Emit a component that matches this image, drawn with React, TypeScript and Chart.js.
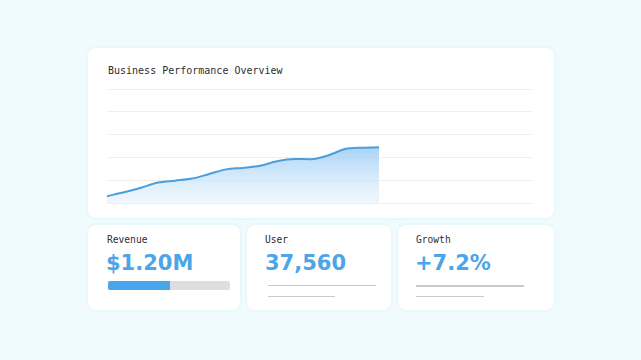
import React, { useEffect, useRef } from "react";
import { Chart, registerables } from "chart.js";

Chart.register(...registerables);

const periods = Array.from({ length: 26 }, (_, i) => `P${i + 1}`);
const performance: (number | null)[] = [
  6.0, 9.4, 13.4, 17.9, 19.6, 21.4, 25.4, 29.5, 30.8, 32.6, 36.6, 38.6, 38.4, 41.7, 47.3, 48.5, 48.8,
  null, null, null, null, null, null, null, null, null,
];
const yTicks = [0, 20, 40, 60, 80, 100];

const title = "Business Performance Overview";
const kpiLabels = ["Revenue", "User", "Growth"];
const kpiValues = ["$1.20M", "37,560", "+7.2%"];
const revenueProgress = 0.51;

const card: React.CSSProperties = {
  position: "absolute",
  background: "#ffffff",
  borderRadius: 8,
  boxShadow: "0 0 3px rgba(180,220,235,0.35)",
};

export default function App() {
  const ref = useRef<HTMLCanvasElement | null>(null);

  useEffect(() => {
    if (!ref.current) return;
    const chart = new Chart(ref.current, {
      type: "line",
      data: {
        labels: periods,
        datasets: [
          {
            data: performance,
            borderColor: "#4a9edb",
            borderWidth: 2,
            pointRadius: 0,
            tension: 0.4,
            cubicInterpolationMode: "monotone",
            fill: "start",
            spanGaps: false,
            backgroundColor: (ctx: any) => {
              const { chart } = ctx;
              const area = chart.chartArea;
              if (!area) return "rgba(160,210,245,0.6)";
              const g = chart.ctx.createLinearGradient(0, area.top + 55, 0, area.bottom);
              g.addColorStop(0, "rgba(158,206,245,0.95)");
              g.addColorStop(1, "rgba(225,240,252,0.5)");
              return g;
            },
          },
        ],
      },
      options: {
        animation: false,
        responsive: false,
        maintainAspectRatio: false,
        layout: { padding: { top: 0, bottom: 3, left: 0, right: 0 } },
        plugins: { legend: { display: false }, tooltip: { enabled: false }, title: { display: false } },
        scales: {
          x: { display: false, offset: false },
          y: {
            min: 0,
            max: 100,
            afterBuildTicks: (axis: any) => {
              axis.ticks = yTicks.map((v) => ({ value: v }));
            },
            ticks: { display: false },
            border: { display: false },
            grid: { color: "#efefef", lineWidth: 1, drawTicks: false },
          },
        },
      },
    });
    return () => chart.destroy();
  }, []);

  const labelStyle: React.CSSProperties = {
    position: "absolute",
    fontFamily: "'DejaVu Sans Mono', monospace",
    fontSize: 9.6,
    color: "#2e2e2e",
    whiteSpace: "nowrap",
    transform: "scaleY(1.12)",
    transformOrigin: "left top",
  };
  const valueStyle: React.CSSProperties = {
    position: "absolute",
    fontFamily: "'DejaVu Sans', sans-serif",
    fontWeight: 700,
    fontSize: 21,
    color: "#4ba5e8",
    whiteSpace: "nowrap",
  };
  const lineStyle = (left: number, top: number, width: number): React.CSSProperties => ({
    position: "absolute",
    left,
    top,
    width,
    height: 1.5,
    background: "#c9c9cc",
  });

  return (
    <div
      style={{
        position: "fixed",
        left: 0,
        top: 0,
        width: 641,
        height: 360,
        background: "#f0fbfd",
        overflow: "hidden",
      }}
    >
      <div style={{ ...card, left: 88, top: 48, width: 466, height: 170 }} />
      <div style={{ ...labelStyle, fontSize: 10, left: 108, top: 64 }}>{title}</div>
      <canvas
        ref={ref}
        width={425}
        height={117}
        style={{ position: "absolute", left: 107, top: 89, width: 425, height: 117 }}
      />

      <div style={{ ...card, left: 88, top: 225, width: 152, height: 85 }} />
      <div style={{ ...card, left: 247, top: 225, width: 144, height: 85 }} />
      <div style={{ ...card, left: 398, top: 225, width: 156, height: 85 }} />

      <div style={{ ...labelStyle, left: 107, top: 233 }}>{kpiLabels[0]}</div>
      <div style={{ ...labelStyle, left: 265, top: 233 }}>{kpiLabels[1]}</div>
      <div style={{ ...labelStyle, left: 416, top: 233 }}>{kpiLabels[2]}</div>

      <div style={{ ...valueStyle, left: 106, top: 251 }}>{kpiValues[0]}</div>
      <div style={{ ...valueStyle, left: 265, top: 251 }}>{kpiValues[1]}</div>
      <div style={{ ...valueStyle, left: 415, top: 251 }}>{kpiValues[2]}</div>

      <div
        style={{
          position: "absolute",
          left: 108,
          top: 281,
          width: 122,
          height: 9,
          borderRadius: 2,
          background: "#dedde2",
          overflow: "hidden",
        }}
      >
        <div style={{ width: `${revenueProgress * 100}%`, height: "100%", background: "#4aa6ea" }} />
      </div>

      <div style={lineStyle(268, 284.5, 108)} />
      <div style={lineStyle(268, 295.5, 67)} />
      <div style={lineStyle(416, 285, 108)} />
      <div style={lineStyle(416, 295.5, 68)} />
    </div>
  );
}
